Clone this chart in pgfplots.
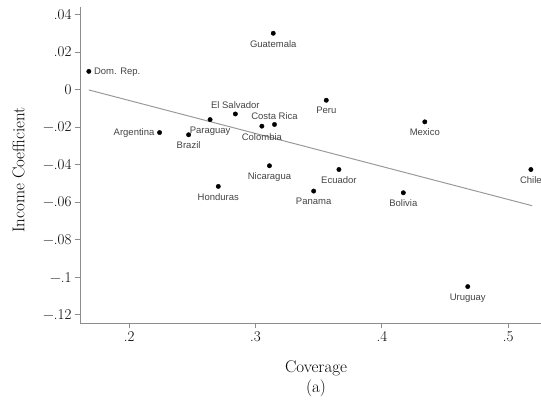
\documentclass[border=0pt]{standalone}
\usepackage{fontspec}
\newfontfamily\labfont{Liberation Sans}
\usepackage{pgfplots}
\pgfplotsset{compat=1.18}
\definecolor{axisgray}{HTML}{8C8C8C}
\definecolor{fitgray}{HTML}{9A9A9A}
\definecolor{labgray}{HTML}{444444}

\begin{document}
\begin{tikzpicture}
\begin{axis}[
  scale only axis, width=461pt, height=316pt,
  xmin=0.161, xmax=0.526, ymin=-0.1244, ymax=0.044,
  clip=false,
  axis lines*=left,
  axis line style={axisgray, line width=0.9pt, -},
  x axis line style={-}, y axis line style={-},
  tick align=outside, major tick length=5pt,
  tick style={axisgray, line width=0.8pt},
  xtick={0.2,0.3,0.4,0.5}, xticklabels={.2,.3,.4,.5},
  ytick={-0.12,-0.1,-0.08,-0.06,-0.04,-0.02,0,0.02,0.04},
  yticklabels={−.12,−.1,−.08,−.06,−.04,−.02,0,.02,.04},
  /pgf/number format/assume math mode=true,
  tick label style={font=\fontsize{15}{18}\selectfont},
  xlabel={Coverage},
  xlabel style={at={([yshift=-49pt]axis description cs:0.512,0)}, anchor=base,
    font=\fontsize{17}{20}\selectfont},
  ylabel={Income Coefficient},
  ylabel style={at={([xshift=-61.5pt]axis description cs:0,0.484)}, anchor=center,
    font=\fontsize{17}{20}\selectfont},
  every node near coord/.style={font=\labfont\fontsize{9.5}{11}\selectfont,
    text=labgray, inner sep=0pt},
  point meta=explicit symbolic,
]
% fitted line
\addplot[fitgray, line width=1pt] coordinates {(0.168,-0.0002) (0.519,-0.0619)};

% labels below the marker
\addplot[only marks, mark=*, mark size=2.2pt, black, nodes near coords,
  nodes near coords style={anchor=north, yshift=-7pt}] coordinates {
  (0.314,0.0300) [Guatemala]
  (0.356,-0.0057) [Peru]
  (0.434,-0.0172) [Mexico]
  (0.311,-0.0406) [Nicaragua]
  (0.366,-0.0426) [Ecuador]
  (0.518,-0.0426) [Chile]
  (0.2705,-0.0516) [Honduras]
  (0.346,-0.0541) [Panama]
  (0.417,-0.0550) [Bolivia]
  (0.468,-0.1050) [Uruguay]
  (0.247,-0.0241) [Brazil]
  (0.264,-0.0160) [Paraguay]
  (0.305,-0.0195) [Colombia]
};
% labels above the marker
\addplot[only marks, mark=*, mark size=2.2pt, black, nodes near coords,
  nodes near coords style={anchor=base, yshift=5pt}] coordinates {
  (0.284,-0.0130) [El Salvador]
  (0.315,-0.0186) [Costa Rica]
};
% label to the right
\addplot[only marks, mark=*, mark size=2.2pt, black, nodes near coords,
  nodes near coords style={anchor=west, xshift=5pt, yshift=-1pt}] coordinates {
  (0.168,0.0097) [Dom. Rep.]
};
% label to the left
\addplot[only marks, mark=*, mark size=2.2pt, black, nodes near coords,
  nodes near coords style={anchor=east, xshift=-5pt, yshift=-1pt}] coordinates {
  (0.224,-0.0229) [Argentina]
};

\node[anchor=base, font=\fontsize{17}{20}\selectfont]
  at ([yshift=-69pt]axis description cs:0.512,0) {(a)};
\end{axis}
\pgfresetboundingbox
\path[use as bounding box] ([xshift=-80pt,yshift=-82pt]current axis.south west)
  rectangle ([yshift=7pt]current axis.north east);
\end{tikzpicture}
\end{document}
